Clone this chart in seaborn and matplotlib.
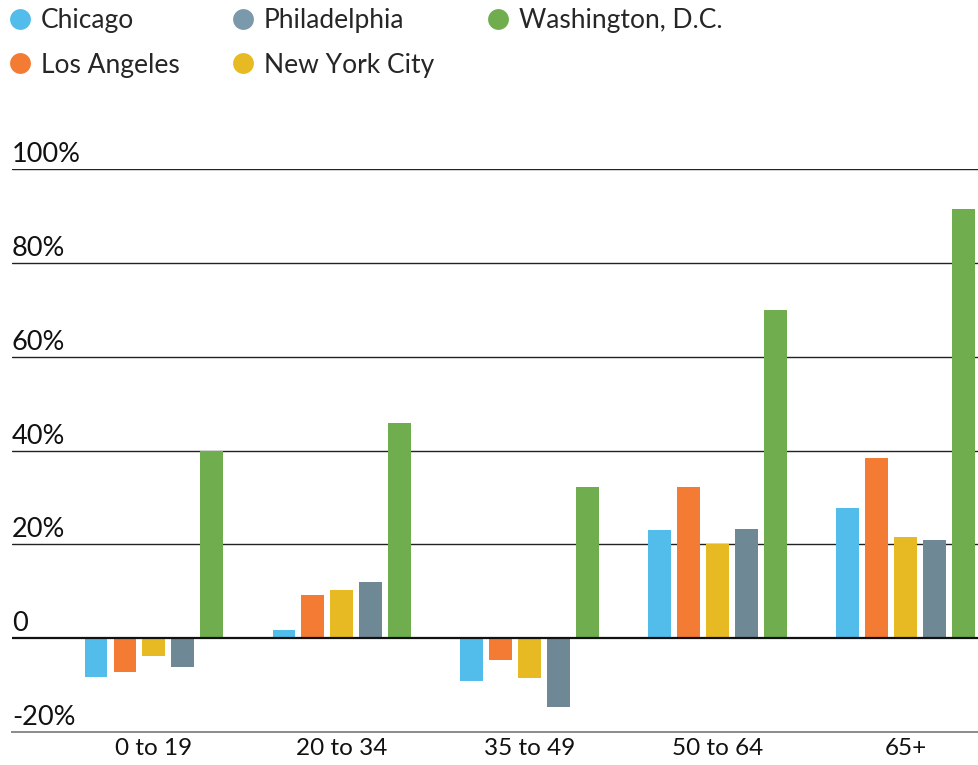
import pandas as pd
import numpy as np
import matplotlib
matplotlib.use("Agg")
import matplotlib.pyplot as plt
from matplotlib.lines import Line2D
import seaborn as sns

age_groups = ["0 to 19", "20 to 34", "35 to 49", "50 to 64", "65+"]
cities = ["Chicago", "Los Angeles", "New York City", "Philadelphia", "Washington, D.C."]

chicago = [-8.3, 1.8, -9.1, 23.1, 27.8]
los_angeles = [-7.2, 9.2, -4.7, 32.2, 38.5]
new_york = [-3.8, 10.3, -8.4, 20.1, 21.5]
philadelphia = [-6.1, 12.0, -14.6, 23.2, 21.0]
washington = [39.9, 45.8, 32.2, 70.0, 91.5]

colors = {
    "Chicago": "#52BDEB",
    "Los Angeles": "#F37B33",
    "New York City": "#E7BA24",
    "Philadelphia": "#6E8896",
    "Washington, D.C.": "#6FAD4E",
}

ytick_vals = [-20, 0, 20, 40, 60, 80, 100]
ytick_labels = ["-20%", "0", "20%", "40%", "60%", "80%", "100%"]

df = pd.DataFrame({
    "age": age_groups * 5,
    "change": chicago + los_angeles + new_york + philadelphia + washington,
    "city": [c for c in cities for _ in age_groups],
})

sns.set_theme(style="white")
plt.rcParams["font.family"] = ["Lato", "DejaVu Sans"]

fig = plt.figure(figsize=(9.79, 7.65), dpi=100)
ax = fig.add_axes([12 / 979, 1 - 732 / 765, 1 - 12 / 979, (732 - 169) / 765])

sns.barplot(data=df, x="age", y="change", hue="city", hue_order=cities,
            order=age_groups, palette=colors, width=0.77, gap=0.21,
            linewidth=0, saturation=1, legend=False, ax=ax, zorder=3)

ax.set_ylim(-20, 100)
ax.set_xlim(-0.755, 4.39)

# gridlines
for v in ytick_vals[2:]:
    ax.axhline(v, color="#222222", lw=1.0, zorder=1)
ax.axhline(0, color="#111111", lw=1.6, zorder=4)

for side in ["top", "left", "right"]:
    ax.spines[side].set_visible(False)
ax.spines["bottom"].set_color("#8a8a8a")
ax.spines["bottom"].set_linewidth(1.4)

ax.set_yticks([])
ax.set_xlabel("")
ax.set_ylabel("")
ax.tick_params(axis="x", length=0, pad=4, labelsize=17.5, labelcolor="#111111")

# y labels sit above their gridlines at the left edge
for v, lab in zip(ytick_vals, ytick_labels):
    ax.annotate(lab, xy=(0, v), xycoords=("axes fraction", "data"),
                xytext=(0, 5), textcoords="offset points",
                ha="left", va="baseline", fontsize=19.5, color="#111111")

# legend, filled column-wise
legend_order = ["Chicago", "Los Angeles", "Philadelphia", "New York City", "Washington, D.C."]
handles = [Line2D([0], [0], marker="o", linestyle="", markersize=15,
                  markerfacecolor=colors[c] if c != "Philadelphia" else "#7A9AAB",
                  markeredgewidth=0) for c in legend_order]
fig.legend(handles, legend_order, loc="upper left", bbox_to_anchor=(0.0, 1.0),
           ncol=3, frameon=False, fontsize=19, handlelength=0.9,
           handletextpad=0.35, columnspacing=1.95, labelspacing=0.75,
           borderaxespad=0, borderpad=0.3)

fig.savefig("out.png", dpi=100)
